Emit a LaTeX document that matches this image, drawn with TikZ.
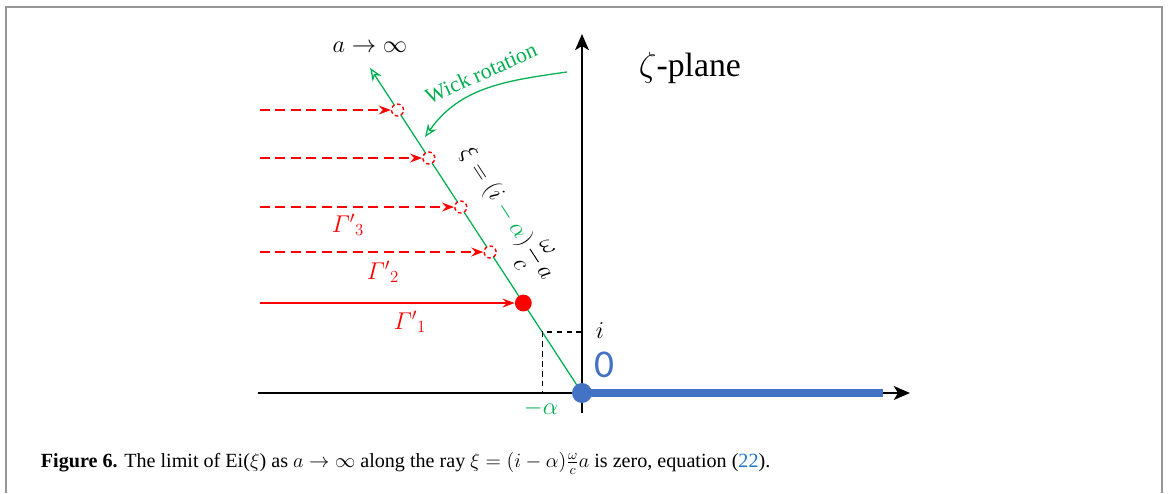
\documentclass[tikz,border=0pt]{standalone}
\usepackage{amsmath}
\usepackage{fontspec}
\setmainfont{Liberation Serif}
\newfontfamily\digitfont{Carlito}
\usetikzlibrary{arrows.meta,calc}
\definecolor{leaf}{RGB}{0,176,80}
\definecolor{cherry}{RGB}{255,0,0}
\definecolor{steel}{RGB}{68,114,196}
\definecolor{linkblue}{RGB}{30,120,200}
\definecolor{rim}{RGB}{150,150,150}
\tikzset{
  axis/.style={line width=2.1pt,-{Stealth[length=4mm,width=3.4mm,inset=1mm]}},
  ray/.style={draw=leaf,line width=0.9pt,-{Stealth[length=3.2mm,width=2.6mm,open]}},
  path line/.style={draw=cherry,line width=1.4pt,-{Stealth[length=3mm,width=2.2mm,inset=1mm]}},
  ghost/.style={circle,draw=cherry,line width=1pt,dash pattern=on 2.5pt off 2pt,
    minimum size=0.3cm,inner sep=0pt,fill=white},
  pole/.style={circle,fill=#1,minimum size=0.42cm,inner sep=0pt},
  pole/.default=cherry,
  guide/.style={draw=black,line width=1pt,dash pattern=on 4pt off 3pt},
  tag/.style={font=\fontsize{18}{18}\selectfont,inner sep=1pt},
  gamma/.style={tag,text=cherry},
}

\begin{document}
\begin{tikzpicture}[x=0.025cm,y=0.025cm]
  \useasboundingbox (-582,-100) rectangle (588,393);
  \draw[rim,line width=1.4pt] (-576,-100) -- (-576,386) -- (580,386) -- (580,-100);
  % axes and the cut
  \coordinate (O) at (0,0);
  \coordinate (xl) at (-324,0);
  \coordinate (xr) at (328,0);
  \coordinate (yb) at (0,-20);
  \coordinate (yt) at (0,359);
  \coordinate (cut) at (301,0);
  \draw[axis] (xl) -- (xr);
  \draw[axis] (yb) -- (yt);
  \draw[steel,line width=5.7pt] (O) -- (cut);
  % the rotated ray
  \coordinate (tip) at (123.1:388);
  \coordinate (corner) at (123.1:72.8);
  \draw[ray] (O) -- (tip);
  \draw[guide] ($(O|-corner)$) -- (corner) -- ($(corner|-O)$);
  \node[pole] (p1) at (123.1:107.4) {};
  \foreach \r [count=\k from 2] in {168.3,222,280.5,337.8}
    \node[ghost] (p\k) at (123.1:\r) {};
  \foreach \k in {1,...,5}
    \coordinate (s\k) at ($(p\k)+(-322,0)-(p\k|-O)$);
  \draw[path line] (s1) -- (p1);
  \foreach \k in {2,...,5}
    \draw[path line,dash pattern=on 7pt off 4pt] (s\k) -- (p\k);
  \node[pole=steel,minimum size=0.5cm] (zero) at (O) {};
  % labels
  \node[tag] (lim) at (-212,346) {$a\to\infty$};
  \node[font=\fontsize{24}{24}\selectfont,anchor=west] (plane) at (52,325) {$\zeta$-plane};
  \node[tag] (unit) at (18,62) {$i$};
  \node[font=\fontsize{28}{28}\selectfont\digitfont,text=steel] (orig) at (22,28) {0};
  \node[tag,text=leaf] (alpha) at (-41,-15) {$-\alpha$};
  \node[gamma] (g1) at (-172,71) {$\varGamma'{}_1$};
  \node[gamma] (g2) at (-199,121) {$\varGamma'{}_2$};
  \node[gamma] (g3) at (-234,168) {$\varGamma'{}_3$};
  \node[tag,rotate=-56.9] (eq) at (-76,179)
    {$\displaystyle\xi=(i\mathbin{\textcolor{leaf}{-}}\textcolor{leaf}{\alpha})\,\frac{\omega}{c}\,a$};
  \node[font=\fontsize{15.5}{15.5}\selectfont,text=leaf,rotate=24] (wick) at (-101,320) {Wick rotation};
  \coordinate (wa) at (-15,321);
  \coordinate (wb) at (-157,256);
  \draw[leaf,line width=0.9pt,-{Stealth[length=3.2mm,width=2.6mm,open]}] (wa) to[out=188,in=55] (wb);
  \node[anchor=west,font=\fontsize{14.3}{14.3}\selectfont] (cap) at (-546,-70)
    {\textbf{Figure 6.} The limit of Ei($\xi$) as $a\to\infty$ along the ray
     $\xi=(i-\alpha)\frac{\omega}{c}a$ is zero, equation (\textcolor{linkblue}{22}).};
\end{tikzpicture}
\end{document}
